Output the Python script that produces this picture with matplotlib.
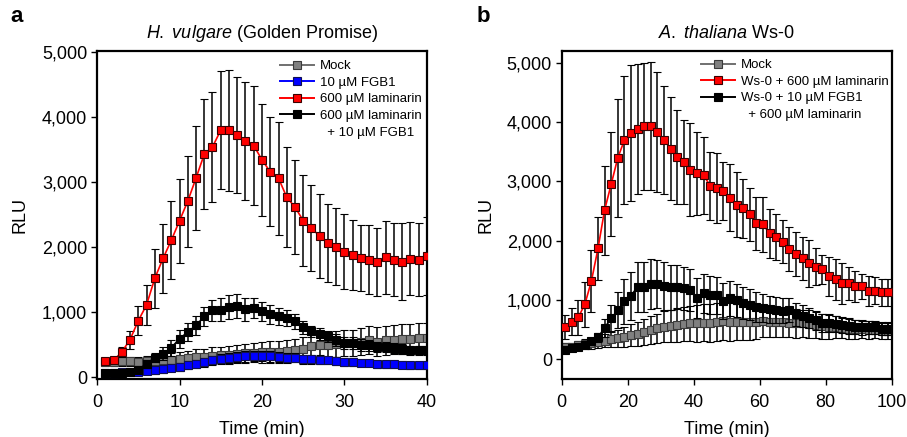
import matplotlib
matplotlib.use("Agg")
import matplotlib.pyplot as plt
from matplotlib.lines import Line2D
from matplotlib.ticker import FuncFormatter

plt.rcParams['font.family'] = ['Liberation Sans', 'DejaVu Sans']
plt.rcParams['mathtext.fontset'] = 'custom'
plt.rcParams['mathtext.it'] = 'Liberation Sans:italic'
plt.rcParams['mathtext.rm'] = 'Liberation Sans'

# ---------------- Panel a data (H. vulgare) ----------------
time_a = list(range(1, 41))
mock_a = [230, 230, 240, 240, 235, 240, 250, 260, 270, 280, 295, 305, 315, 325, 335, 345, 355, 365, 375,
          380, 390, 390, 405, 420, 436, 472, 487, 500, 510, 520, 530, 545, 564, 545, 565, 575, 585, 585, 595, 605]
mock_a_err = [60, 60, 70, 70, 80, 80, 90, 100, 100, 110, 110, 120, 120, 130, 130, 140, 140, 150, 150, 160,
              170, 170, 170, 170, 180, 180, 180, 190, 200, 200, 200, 210, 215, 220, 220, 220, 230, 230, 230, 230]
fgb1_a = [70, 70, 75, 80, 85, 90, 103, 118, 144, 154, 180, 205, 231, 256, 282, 297, 308, 318, 323, 323,
          318, 308, 297, 297, 277, 277, 267, 256, 246, 231, 231, 215, 215, 195, 195, 195, 190, 180, 180, 180]
fgb1_a_err = [30, 30, 30, 30, 40, 40, 50, 50, 50, 60, 60, 60, 70, 70, 70, 80, 80, 80, 80, 80,
              80, 80, 80, 70, 70, 70, 70, 60, 60, 60, 60, 50, 50, 50, 50, 50, 50, 50, 50, 50]
lam_a = [241, 256, 385, 574, 867, 1108, 1518, 1826, 2103, 2405, 2708, 3062, 3431, 3544, 3800, 3800, 3728, 3636,
         3564, 3344, 3159, 3062, 2769, 2615, 2410, 2292, 2169, 2062, 2010, 1933, 1882, 1831, 1805, 1769, 1841,
         1805, 1779, 1821, 1805, 1867]
lam_a_err = [40, 40, 80, 140, 220, 310, 450, 530, 600, 650, 700, 800, 850, 850, 910, 930, 890, 910, 920, 860,
             840, 870, 770, 720, 700, 660, 650, 600, 590, 575, 540, 510, 530, 520, 560, 560, 600, 560, 560, 600]
lamfgb_a = [67, 67, 67, 77, 113, 205, 297, 359, 451, 590, 692, 795, 933, 1026, 1036, 1077, 1092, 1041, 1062,
            1010, 964, 933, 908, 856, 769, 703, 667, 626, 574, 528, 523, 497, 487, 462, 462, 451, 436, 410, 410, 410]
lamfgb_a_err = [30, 30, 30, 40, 50, 60, 70, 100, 120, 140, 140, 145, 150, 160, 180, 190, 190, 180, 160, 150,
                140, 130, 120, 110, 100, 90, 90, 90, 90, 90, 90, 90, 80, 80, 80, 80, 80, 70, 70, 70]

# ---------------- Panel b data (A. thaliana Ws-0) ----------------
time_b = list(range(1, 100, 2))
mock_b = [213, 213, 236, 260, 270, 298, 315, 337, 354, 382, 410, 427, 466, 494, 522, 551, 562, 579, 596, 607,
          607, 618, 618, 629, 646, 635, 630, 635, 625, 625, 652, 635, 625, 625, 615, 607, 607, 596, 579, 562,
          551, 545, 535, 517, 510, 506, 494, 494, 483, 483]
mock_b_err = [60, 60, 70, 80, 90, 100, 110, 130, 150, 170, 190, 200, 220, 230, 250, 260, 270, 280, 290, 300,
              310, 310, 320, 320, 320, 320, 310, 300, 290, 280, 270, 260, 250, 250, 240, 240, 230, 230, 220, 210,
              200, 190, 180, 170, 160, 150, 150, 140, 140, 140]
lam_b = [551, 635, 708, 927, 1320, 1871, 2517, 2955, 3399, 3697, 3820, 3882, 3933, 3938, 3837, 3697, 3556,
         3416, 3331, 3202, 3140, 3107, 2927, 2882, 2843, 2730, 2612, 2545, 2444, 2292, 2275, 2124, 2067, 1983,
         1860, 1775, 1702, 1618, 1562, 1517, 1404, 1348, 1281, 1281, 1236, 1236, 1157, 1157, 1129, 1129]
lam_b_err = [200, 225, 300, 380, 520, 530, 750, 880, 1000, 1080, 1150, 1100, 1070, 1080, 1010, 910, 870, 790,
             710, 790, 700, 650, 570, 590, 490, 560, 550, 500, 440, 450, 470, 420, 390, 365, 375, 375, 365, 390,
             310, 240, 330, 340, 340, 280, 260, 210, 250, 225, 235, 235]
lamfgb_b = [160, 185, 205, 242, 309, 371, 534, 691, 831, 983, 1073, 1225, 1225, 1270, 1270, 1236, 1213, 1225,
            1197, 1169, 1039, 1112, 1079, 1084, 989, 1028, 1000, 955, 921, 888, 871, 843, 831, 820, 831, 758,
            730, 702, 663, 618, 618, 596, 573, 562, 551, 539, 539, 539, 517, 517]
lamfgb_b_err = [40, 40, 50, 50, 60, 80, 150, 220, 300, 380, 400, 420, 420, 420, 410, 400, 380, 370, 360, 350,
                340, 330, 320, 310, 300, 290, 280, 270, 260, 250, 240, 230, 220, 210, 200, 190, 180, 170, 160,
                150, 150, 140, 130, 130, 120, 120, 110, 110, 100, 100]

W, H = 907, 437
fig = plt.figure(figsize=(W / 100, H / 100), dpi=100)

ax_a = fig.add_axes([97 / W, 1 - 379 / H, 330 / W, 328 / H])
ax_b = fig.add_axes([561.7 / W, 1 - 379 / H, 330 / W, 328 / H])

MS = 5.4
EB = dict(ecolor='black', elinewidth=1.1, capsize=3.2, capthick=1.1)


def series(ax, x, y, e, lc, fc, ec, lw=1.2, z=2):
    ax.errorbar(x, y, yerr=e, fmt='-s', color=lc, lw=lw, ms=MS, mfc=fc, mec=ec, mew=0.8,
                zorder=z, **EB)


series(ax_a, time_a, mock_a, mock_a_err, '#707070', '#808080', '#3a3a3a', z=2)
series(ax_a, time_a, fgb1_a, fgb1_a_err, '#0000ff', '#0000ff', '#101050', z=3)
series(ax_a, time_a, lamfgb_a, lamfgb_a_err, 'black', 'black', 'black', z=4)
series(ax_a, time_a, lam_a, lam_a_err, '#ff0000', '#ff0000', '#3a0000', z=5)

series(ax_b, time_b, mock_b, mock_b_err, '#707070', '#808080', '#3a3a3a', z=2)
series(ax_b, time_b, lamfgb_b, lamfgb_b_err, 'black', 'black', 'black', z=3)
series(ax_b, time_b, lam_b, lam_b_err, '#ff0000', '#ff0000', '#3a0000', z=4)

fmt = FuncFormatter(lambda v, p: f"{int(v):,}")
for ax, lp in ((ax_a, 10), (ax_b, 9)):
    for s in ax.spines.values():
        s.set_linewidth(1.6)
    ax.tick_params(direction='out', length=4, width=1.0, labelsize=13, pad=3,
                   top=False, right=False)
    ax.tick_params(axis='x', pad=7)
    ax.yaxis.set_major_formatter(fmt)
    ax.set_yticks([0, 1000, 2000, 3000, 4000, 5000])
    ax.set_ylabel('RLU', fontsize=13, labelpad=lp)
    ax.set_xlabel('Time (min)', fontsize=13, labelpad=7)

ax_a.set_xlim(0, 40)
ax_a.set_ylim(-30, 5020)
ax_a.set_xticks([0, 10, 20, 30, 40])
ax_b.set_xlim(0, 100)
ax_b.set_ylim(-330, 5200)
ax_b.set_xticks([0, 20, 40, 60, 80, 100])

ax_a.set_title(r'$\mathit{H.\ vulgare}$ (Golden Promise)', fontsize=13, pad=9)
ax_b.set_title(r'$\mathit{A.\ thaliana}$ Ws-0', fontsize=13, pad=9)

fig.text(10 / W, 1 - 22 / H, 'a', fontsize=16, fontweight='bold', va='baseline')
fig.text(477 / W, 1 - 22 / H, 'b', fontsize=16, fontweight='bold', va='baseline')


def handle(lc, fc, ec):
    return Line2D([], [], color=lc, lw=1.4, marker='s', ms=MS, mfc=fc, mec=ec, mew=0.8)


blank = Line2D([], [], color='none', lw=0, marker=None)

leg_kw = dict(frameon=False, fontsize=9.5, handlelength=2.6, handletextpad=0.45,
              labelspacing=0.33, borderpad=0, borderaxespad=0, numpoints=1,
              loc='upper left', bbox_transform=fig.transFigure)

ha = [handle('#707070', '#808080', '#3a3a3a'), handle('#0000ff', '#0000ff', '#101050'),
      handle('#ff0000', '#ff0000', '#3a0000'), handle('black', 'black', 'black'), blank]
la = ['Mock', '10 µM FGB1', '600 µM laminarin', '600 µM laminarin', '  + 10 µM FGB1']
ax_a.legend(ha, la, bbox_to_anchor=(280 / W, 1 - 60 / H), **leg_kw)

hb = [handle('#707070', '#808080', '#3a3a3a'), handle('#ff0000', '#ff0000', '#3a0000'),
      handle('black', 'black', 'black'), blank]
lb = ['Mock', 'Ws-0 + 600 µM laminarin', 'Ws-0 + 10 µM FGB1', '  + 600 µM laminarin']
ax_b.legend(hb, lb, bbox_to_anchor=(701 / W, 1 - 59 / H), **leg_kw)

fig.savefig('out.png', dpi=100)
